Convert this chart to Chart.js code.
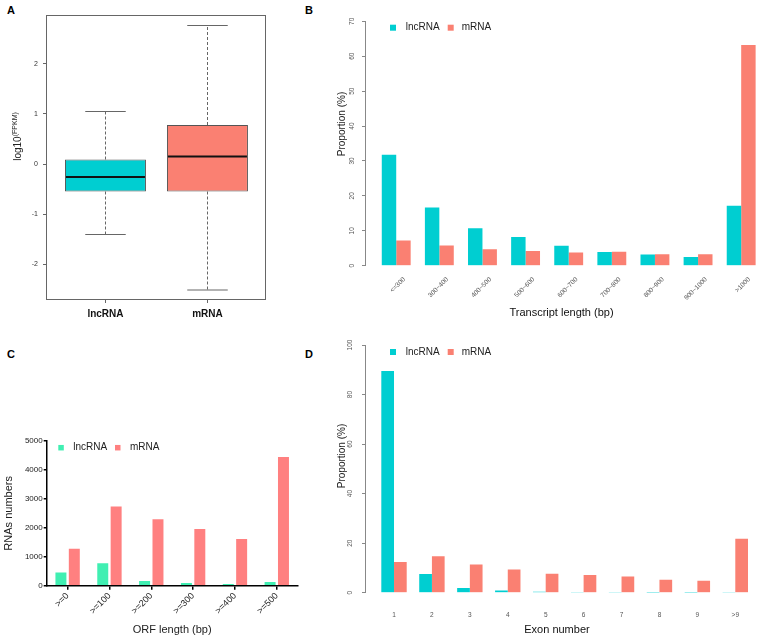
<!DOCTYPE html>
<html>
<head>
<meta charset="utf-8">
<script src="https://cdn.jsdelivr.net/npm/chart.js@4.4.0/dist/chart.umd.min.js"></script>
<style>
  html, body { margin: 0; padding: 0; background: #fff; overflow: hidden; }
  body { width: 758px; height: 637px; position: relative; }
  canvas { position: absolute; }
  .tag { position: absolute; font: bold 11px Arial, "Liberation Sans", sans-serif; line-height: 11px; color: #000; }
</style>
</head>
<body>
<div class="tag" style="left:7px;top:5px">A</div>
<div class="tag" style="left:305px;top:5px">B</div>
<div class="tag" style="left:7px;top:349px">C</div>
<div class="tag" style="left:305px;top:349px">D</div>
<canvas id="boxChart" width="300" height="330" style="left:0;top:0"></canvas>
<canvas id="lengthChart" width="428" height="330" style="left:330px;top:0"></canvas>
<canvas id="orfChart" width="310" height="307" style="left:0;top:330px"></canvas>
<canvas id="exonChart" width="428" height="307" style="left:330px;top:330px"></canvas>
<script>
// A: expression, log10(FPKM)
const boxGroups = ['lncRNA', 'mRNA'];
const boxMin = [-1.41, -2.52];
const boxQ1 = [-0.55, -0.55];
const boxMedian = [-0.26, 0.15];
const boxQ3 = [0.09, 0.78];
const boxMax = [1.05, 2.77];

// B: transcript length, proportion (%)
const lengthBins = ['<=300', '300~400', '400~500', '500~600', '600~700', '700~800', '800~900', '900~1000', '>1000'];
const lengthLnc = [31.8, 16.7, 10.7, 8.2, 5.7, 3.9, 3.2, 2.5, 17.2];
const lengthMrna = [7.2, 5.8, 4.7, 4.2, 3.8, 4.0, 3.3, 3.3, 63.2];

// C: ORF length, RNA counts
const orfBins = ['>=0', '>=100', '>=200', '>=300', '>=400', '>=500'];
const orfLnc = [460, 780, 160, 90, 55, 125];
const orfMrna = [1280, 2740, 2300, 1960, 1610, 4450];

// D: exon number, proportion (%)
const exonBins = ['1', '2', '3', '4', '5', '6', '7', '8', '9', '>9'];
const exonLnc = [89.5, 7.5, 1.9, 0.9, 0.4, 0.1, 0.05, 0.03, 0.02, 0.05];
const exonMrna = [12.4, 14.7, 11.4, 9.4, 7.7, 7.1, 6.5, 5.2, 4.8, 21.8];

const teal = '#00CED1', salmon = '#FA8072';
const mint = '#40EFB2', pink = '#FF8080';
const FONT = 'Arial, "Liberation Sans", sans-serif';

Chart.defaults.font.family = FONT;
Chart.defaults.color = '#333';
Chart.defaults.animation = false;
Chart.defaults.plugins.legend.display = false;
Chart.defaults.plugins.tooltip.enabled = false;

const wholeTicks = s => { s.ticks = s.ticks.filter(t => Math.abs(t.value - Math.round(t.value)) < 1e-9); };
const indexTicks = (n, first = 0) => s => { s.ticks = Array.from({length: n}, (_, i) => ({value: i + first})); };

// small square legend drawn inside the plot area
function legendAt(boxX, textX, dy, size) {
  return {
    id: 'squareLegend',
    afterDraw(chart) {
      const {ctx, chartArea: a} = chart;
      const y = a.top + dy;
      ctx.save();
      ctx.font = '10px ' + FONT;
      ctx.textBaseline = 'middle';
      chart.data.datasets.forEach((ds, i) => {
        ctx.fillStyle = ds.backgroundColor;
        ctx.fillRect(a.left + boxX[i], y - size / 2, size, size);
        ctx.fillStyle = '#222';
        ctx.fillText(ds.label, a.left + textX[i], y);
      });
      ctx.restore();
    }
  };
}

// rotated axis title, pieces may be raised (superscript)
function sideTitle(x, y, parts) {
  return {
    id: 'sideTitle',
    afterDraw(chart) {
      const ctx = chart.ctx;
      ctx.save();
      ctx.translate(x, y);
      ctx.rotate(-Math.PI / 2);
      ctx.fillStyle = '#222';
      ctx.textBaseline = 'alphabetic';
      let total = 0;
      parts.forEach(p => { ctx.font = p.font; total += ctx.measureText(p.text).width; });
      let cx = -total / 2;
      parts.forEach(p => {
        ctx.font = p.font;
        ctx.fillText(p.text, cx, 4 - (p.raise || 0));
        cx += ctx.measureText(p.text).width;
      });
      ctx.restore();
    }
  };
}

const boxWhiskers = {
  id: 'boxWhiskers',
  afterDatasetsDraw(chart) {
    const {ctx, chartArea: a, scales: {y}} = chart;
    const seg = (x1, y1, x2, y2) => { ctx.beginPath(); ctx.moveTo(x1, y1); ctx.lineTo(x2, y2); ctx.stroke(); };
    ctx.save();
    ctx.strokeStyle = '#666';
    ctx.lineWidth = 1;
    ctx.strokeRect(a.left + 0.5, a.top + 0.5, a.width - 1, a.height - 1);
    chart.getDatasetMeta(0).data.forEach((bar, i) => {
      const x = Math.round(bar.x) + 0.5, half = bar.width / 2;
      const yHi = y.getPixelForValue(boxMax[i]), yLo = y.getPixelForValue(boxMin[i]);
      const y3 = y.getPixelForValue(boxQ3[i]), y1 = y.getPixelForValue(boxQ1[i]);
      const yMed = y.getPixelForValue(boxMedian[i]);
      ctx.strokeStyle = '#666';
      ctx.lineWidth = 1;
      ctx.setLineDash([3, 2]);
      seg(x, y3, x, yHi);
      seg(x, y1, x, yLo);
      ctx.setLineDash([]);
      seg(x - half / 2, yHi, x + half / 2, yHi);
      seg(x - half / 2, yLo, x + half / 2, yLo);
      ctx.strokeStyle = '#111';
      ctx.lineWidth = 2;
      seg(bar.x - half + 1, yMed, bar.x + half - 1, yMed);
    });
    ctx.restore();
  }
};

// ---- A ----
new Chart(document.getElementById('boxChart'), {
  type: 'bar',
  data: {
    datasets: [{
      data: boxGroups.map((g, i) => ({x: i + 1, y: [boxQ1[i], boxQ3[i]]})),
      backgroundColor: [teal, salmon],
      borderColor: '#555',
      borderWidth: 1,
      borderSkipped: false,
      categoryPercentage: 0.794,
      barPercentage: 1
    }]
  },
  options: {
    responsive: false,
    layout: {padding: {top: 15, right: 34, left: 0, bottom: 0}},
    scales: {
      x: {
        type: 'linear', offset: false, min: 0.417, max: 2.574,
        afterBuildTicks: indexTicks(2, 1),
        afterFit: s => { s.height = 30; },
        grid: {offset: false, drawOnChartArea: false, tickLength: 3, color: '#666'},
        border: {display: false},
        ticks: {callback: v => boxGroups[v - 1], font: {size: 10, weight: 'bold'}, color: '#111', padding: 5}
      },
      y: {
        min: -2.72, max: 2.98,
        afterBuildTicks: wholeTicks,
        afterFit: s => { s.width = 46; },
        grid: {drawOnChartArea: false, tickLength: 3, color: '#666'},
        border: {display: false},
        ticks: {font: {size: 7}, color: '#333', padding: 5}
      }
    }
  },
  plugins: [boxWhiskers, sideTitle(17, 136.5, [
    {text: 'log10', font: '10px ' + FONT},
    {text: '(FPKM)', font: '7px ' + FONT, raise: 4}
  ])]
});

// ---- B and D share one look ----
function proportionChart(id, bins, lnc, mrna, o) {
  return new Chart(document.getElementById(id), {
    type: 'bar',
    data: {
      datasets: [
        {label: 'lncRNA', data: lnc.map((v, i) => ({x: i, y: v})), backgroundColor: teal},
        {label: 'mRNA', data: mrna.map((v, i) => ({x: i, y: v})), backgroundColor: salmon}
      ]
    },
    options: {
      responsive: false,
      layout: {padding: {top: o.top, right: 0, left: 0, bottom: 0}},
      datasets: {bar: {categoryPercentage: 0.67, barPercentage: 1}},
      scales: {
        x: {
          type: 'linear', offset: false, min: o.xMin, max: o.xMax,
          afterBuildTicks: indexTicks(bins.length),
          afterFit: s => { s.height = o.xHeight; },
          grid: {display: false, drawTicks: false, offset: false},
          border: {display: false},
          ticks: Object.assign({callback: v => bins[v], autoSkip: false, font: {size: 6.5}, color: '#555'}, o.xTicks),
          title: {display: true, text: o.xTitle, font: {size: 11}, color: '#111', padding: {top: 0, bottom: o.titlePad}}
        },
        y: {
          min: 0, max: o.yMax,
          afterBuildTicks: wholeTicks,
          afterFit: s => { s.width = 35; },
          grid: {drawOnChartArea: false, tickLength: 3, color: '#888'},
          border: {color: '#888'},
          ticks: {stepSize: o.yStep, minRotation: 90, maxRotation: 90, crossAlign: 'center', font: {size: 6.5}, color: '#555', padding: 6}
        }
      }
    },
    plugins: [
      legendAt([25, 82.7], [40.7, 96.7], o.legendY, 6),
      sideTitle(o.titleX, o.titleY, [{text: 'Proportion (%)', font: '10px ' + FONT}])
    ]
  });
}

proportionChart('lengthChart', lengthBins, lengthLnc, lengthMrna, {
  top: 21.3, xMin: -0.724, xMax: 8.39, xHeight: 64.3, yMax: 70, yStep: 10,
  xTicks: {minRotation: 45, maxRotation: 45, padding: 10, labelOffset: 8},
  xTitle: 'Transcript length (bp)', titlePad: 10.4,
  legendY: 6.4, titleX: 11, titleY: 124
});

// ---- C ----
new Chart(document.getElementById('orfChart'), {
  type: 'bar',
  data: {
    labels: orfBins,
    datasets: [
      {label: 'lncRNA', data: orfLnc, backgroundColor: mint},
      {label: 'mRNA', data: orfMrna, backgroundColor: pink}
    ]
  },
  options: {
    responsive: false,
    layout: {padding: {top: 111, right: 12.3, left: 0, bottom: 0}},
    datasets: {bar: {categoryPercentage: 0.64, barPercentage: 0.82}},
    scales: {
      x: {
        grid: {offset: false, drawOnChartArea: false, tickLength: 4, color: '#000', lineWidth: 1.5},
        border: {color: '#000', width: 1.5},
        afterFit: s => { s.height = 51.3; },
        ticks: {minRotation: 45, maxRotation: 45, autoSkip: false, font: {size: 9}, color: '#222', padding: 1},
        title: {display: true, text: 'ORF length (bp)', font: {size: 11}, color: '#222', padding: {top: 0, bottom: 0}}
      },
      y: {
        min: 0, max: 5000,
        afterFit: s => { s.width = 46.7; },
        grid: {drawOnChartArea: false, tickLength: 3, color: '#000', lineWidth: 1.5},
        border: {color: '#000', width: 1.5},
        ticks: {stepSize: 1000, callback: v => String(v), font: {size: 8}, color: '#222', padding: 1},
        title: {display: true, text: 'RNAs numbers', font: {size: 11}, color: '#222', padding: {top: 2, bottom: 0}}
      }
    }
  },
  plugins: [legendAt([11.6, 68.3], [26.6, 83.3], 6.7, 5.5)]
});

// ---- D ----
proportionChart('exonChart', exonBins, exonLnc, exonMrna, {
  top: 15, xMin: -0.765, xMax: 9.36, xHeight: 44.3, yMax: 100, yStep: 20,
  xTicks: {maxRotation: 0, padding: 19},
  xTitle: 'Exon number', titlePad: 0.5,
  legendY: 7, titleX: 11, titleY: 126
});
</script>
</body>
</html>
